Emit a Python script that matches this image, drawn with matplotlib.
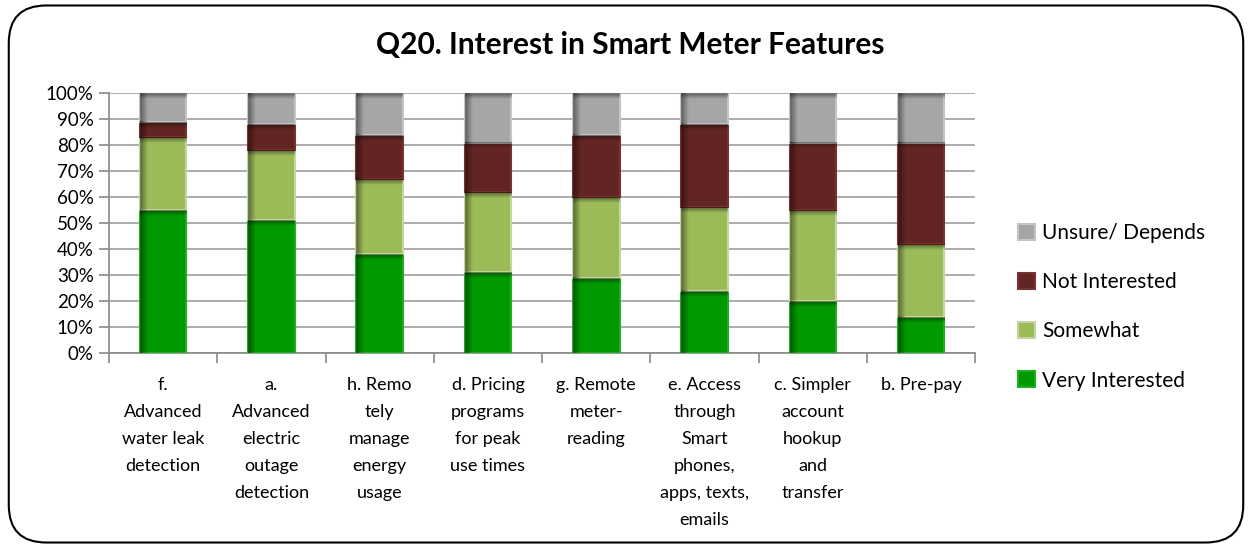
import numpy as np
import matplotlib.pyplot as plt
from matplotlib.patches import FancyBboxPatch

# data (percent)
categories = ["f.\nAdvanced\nwater leak\ndetection",
              "a.\nAdvanced\nelectric\noutage\ndetection",
              "h. Remo\ntely\nmanage\nenergy\nusage",
              "d. Pricing\nprograms\nfor peak\nuse times",
              "g. Remote\nmeter-\nreading",
              "e. Access\nthrough\nSmart\nphones,\napps, texts,\nemails",
              "c. Simpler\naccount\nhookup\nand\ntransfer",
              "b. Pre-pay"]
very_interested = [55, 51, 38, 31, 29, 24, 20, 14]
somewhat = [28, 27, 29, 31, 31, 32, 35, 28]
not_interested = [6, 10, 17, 19, 24, 32, 26, 39]
unsure = [11, 12, 16, 19, 16, 12, 19, 19]
y_ticks = [0, 10, 20, 30, 40, 50, 60, 70, 80, 90, 100]

plt.rcParams['font.family'] = ['Lato', 'DejaVu Sans']

fig = plt.figure(figsize=(12.52, 5.48), dpi=100)
ax = fig.add_axes([0.087, 0.356, 0.692, 0.474])

# rounded chart border
fig.patches.append(FancyBboxPatch((0.007, 0.01), 0.986, 0.98, boxstyle="round,pad=0,rounding_size=0.03",
                                  transform=fig.transFigure, facecolor='white', edgecolor='black',
                                  linewidth=1.5, zorder=-1, mutation_aspect=1252 / 548))

x = np.arange(len(categories))
w = 0.43
series = [("Very Interested", very_interested, "#009900", "#1fb01f"),
          ("Somewhat", somewhat, "#9bbb59", "#c3d69b"),
          ("Not Interested", not_interested, "#632523", "#7a3230"),
          ("Unsure/ Depends", unsure, "#a6a6a6", "#c4c4c4")]
bottom = np.zeros(len(categories))
handles = []
for name, vals, col, edge in series:
    b = ax.bar(x, vals, w, bottom=bottom, color=col, edgecolor=edge, linewidth=1.5, label=name, zorder=3)
    handles.append(b)
    bottom += np.array(vals)

# soft inner shadow on the left and top of each segment
n = 32
left_grad = np.zeros((1, n, 4))
left_grad[0, :, 3] = np.linspace(0.45, 0, n)
top_grad = np.zeros((n, 1, 4))
top_grad[:, 0, 3] = np.linspace(0.45, 0, n)
for b in handles:
    for r in b.patches:
        x0, y0, rw, rh = r.get_x(), r.get_y(), r.get_width(), r.get_height()
        ax.imshow(left_grad, extent=[x0, x0 + 0.07, y0, y0 + rh], aspect='auto', zorder=4,
                  interpolation='bilinear')
        ax.imshow(top_grad, extent=[x0, x0 + rw, y0 + rh - min(2.3, rh / 2), y0 + rh], aspect='auto',
                  zorder=4, interpolation='bilinear')

ax.set_ylim(0, 100)
ax.set_xlim(-0.5, len(categories) - 0.5)
ax.set_yticks(y_ticks)
ax.set_yticklabels([f"{t}%" for t in y_ticks], fontsize=13.5)
ax.yaxis.grid(True, color='#a6a6a6', linewidth=1.3, zorder=0)
ax.set_axisbelow(True)

ax.set_xticks(np.arange(-0.5, len(categories)), minor=False)
ax.set_xticklabels([])
ax.set_xticks(x, minor=True)
ax.set_xticklabels(categories, minor=True, fontsize=13, linespacing=1.85, va='top')
ax.tick_params(axis='x', which='minor', length=0, pad=17)
ax.tick_params(axis='x', which='major', length=7, color='#888888', width=1.2)
ax.tick_params(axis='y', length=7, color='#888888', width=1.2, pad=4)

for s in ['top', 'right']:
    ax.spines[s].set_visible(False)
ax.spines['left'].set_color('#888888')
ax.spines['bottom'].set_color('#888888')
ax.spines['left'].set_linewidth(1.2)
ax.spines['bottom'].set_linewidth(1.2)

fig.text(0.503, 0.918, "Q20. Interest in Smart Meter Features", ha='center', va='center',
         fontsize=21.5, fontweight='bold')

leg = fig.legend(handles[::-1], [h.get_label() for h in handles[::-1]], loc='center left',
                 bbox_to_anchor=(0.798, 0.44), frameon=False, fontsize=15, handlelength=0.8,
                 handleheight=0.8, labelspacing=1.4, handletextpad=0.35)

fig.savefig("out.png", dpi=100)
